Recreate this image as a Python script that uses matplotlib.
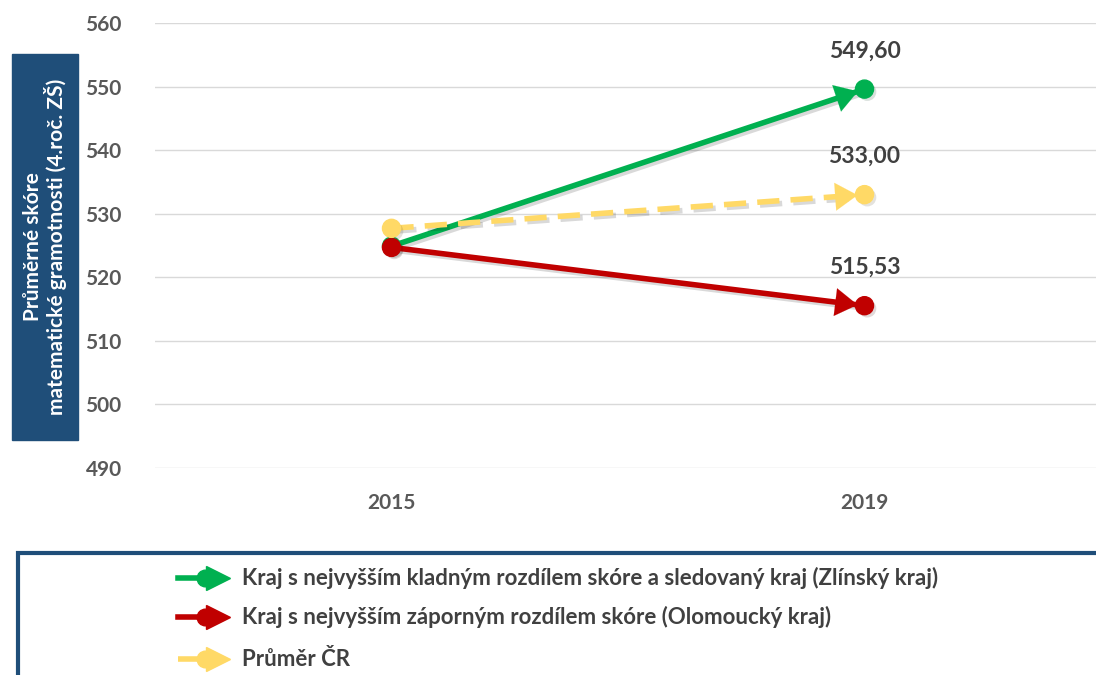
import numpy as np
import matplotlib
matplotlib.use("Agg")
import matplotlib.pyplot as plt
import matplotlib.patheffects as pe
from matplotlib.patches import Rectangle
from matplotlib.lines import Line2D

plt.rcParams['font.family'] = ['Lato', 'DejaVu Sans']

years = ['2015', '2019']
zlin = [524.9, 549.60]
olomouc = [524.7, 515.53]
prumer = [527.7, 533.00]
series_names = ['Kraj s nejvyšším kladným rozdílem skóre a sledovaný kraj (Zlínský kraj)',
                'Kraj s nejvyšším záporným rozdílem skóre (Olomoucký kraj)',
                'Průměr ČR']
colors = ['#00B050', '#C00000', '#FFD966']
styles = ['-', '-', '--']
yticks = [490, 500, 510, 520, 530, 540, 550, 560]

W, H = 1096, 675
fig = plt.figure(figsize=(W / 100, H / 100), dpi=100)
ax = fig.add_axes([155 / W, 1 - 468 / H, 946 / W, 445 / H])

shadow = [pe.SimpleLineShadow(offset=(2, -2), alpha=0.15), pe.Normal()]
x = np.arange(len(years))
order = [2, 0, 1]  # yellow under, red on top
all_series = [zlin, olomouc, prumer]
for i in order:
    vals = all_series[i]
    ax.plot(x, vals, color=colors[i], lw=4, ls=styles[i],
            dashes=(4, 2) if styles[i] == '--' else (None, None),
            solid_capstyle='butt', path_effects=shadow, zorder=3 + i)
    ax.plot(x, vals, 'o', color=colors[i], ms=13, mec=colors[i],
            path_effects=[pe.SimplePatchShadow(offset=(2, -2), alpha=0.15), pe.Normal()],
            zorder=3 + i)
    x0, y0 = x[0], vals[0]
    x1, y1 = x[1], vals[1]
    t = 0.97
    ax.annotate('', xy=(x1, y1), xytext=(x0 + (x1 - x0) * t, y0 + (y1 - y0) * t),
                arrowprops=dict(arrowstyle='-|>,head_length=0.8,head_width=0.5',
                                color=colors[i], lw=0.1, shrinkA=0, shrinkB=5,
                                mutation_scale=20),
                zorder=3 + i)
    ax.annotate(f'{vals[1]:.2f}'.replace('.', ','), (x1, y1), xytext=(0, 20),
                textcoords='offset points', ha='center', va='bottom',
                fontsize=16.5, fontweight='bold', color='#404040')

ax.set_xlim(-0.5, 1.5)
ax.set_ylim(490, 560)
ax.set_yticks(yticks)
ax.set_xticks(x)
ax.set_xticklabels(years)
ax.grid(axis='y', color='#D9D9D9', lw=1)
ax.set_axisbelow(True)
for s in ax.spines.values():
    s.set_visible(False)
ax.tick_params(axis='both', length=0, labelsize=15, labelcolor='#595959')
ax.tick_params(axis='x', pad=18)
ax.tick_params(axis='y', pad=24)
for lab in ax.get_xticklabels() + ax.get_yticklabels():
    lab.set_fontweight('bold')

# y axis title box
fig.patches.append(Rectangle((12 / W, 1 - 440 / H), 66 / W, 386 / H,
                             transform=fig.transFigure, color='#1F4E79', zorder=0))
fig.text(45 / W, 1 - 247 / H, 'Průměrné skóre\nmatematické gramotnosti (4.roč. ZŠ)',
         rotation=90, ha='center', va='center', color='white', fontsize=15,
         fontweight='bold', linespacing=1.05)

# legend box
fig.patches.append(Rectangle((18 / W, -0.1), 1.1, (675 - 553) / H + 0.1,
                             transform=fig.transFigure, fill=False,
                             edgecolor='#1F4E79', lw=3))
legend_y = [578, 617, 659]
for i, name in enumerate(series_names):
    yy = 1 - legend_y[i] / H
    fig.add_artist(Line2D([178 / W, 205 / W], [yy, yy], color=colors[i], lw=4,
                          ls=styles[i], dashes=(4, 2) if styles[i] == '--' else (None, None),
                          transform=fig.transFigure))
    fig.add_artist(Line2D([205 / W], [yy], marker='o', ms=12, color=colors[i],
                          transform=fig.transFigure))
    fig.add_artist(Line2D([218 / W], [yy], marker='>', ms=17, color=colors[i],
                          transform=fig.transFigure))
    fig.text(242 / W, yy, name, ha='left', va='center', fontsize=16,
             fontweight='bold', color='#404040')

fig.savefig('out.png', dpi=100)
